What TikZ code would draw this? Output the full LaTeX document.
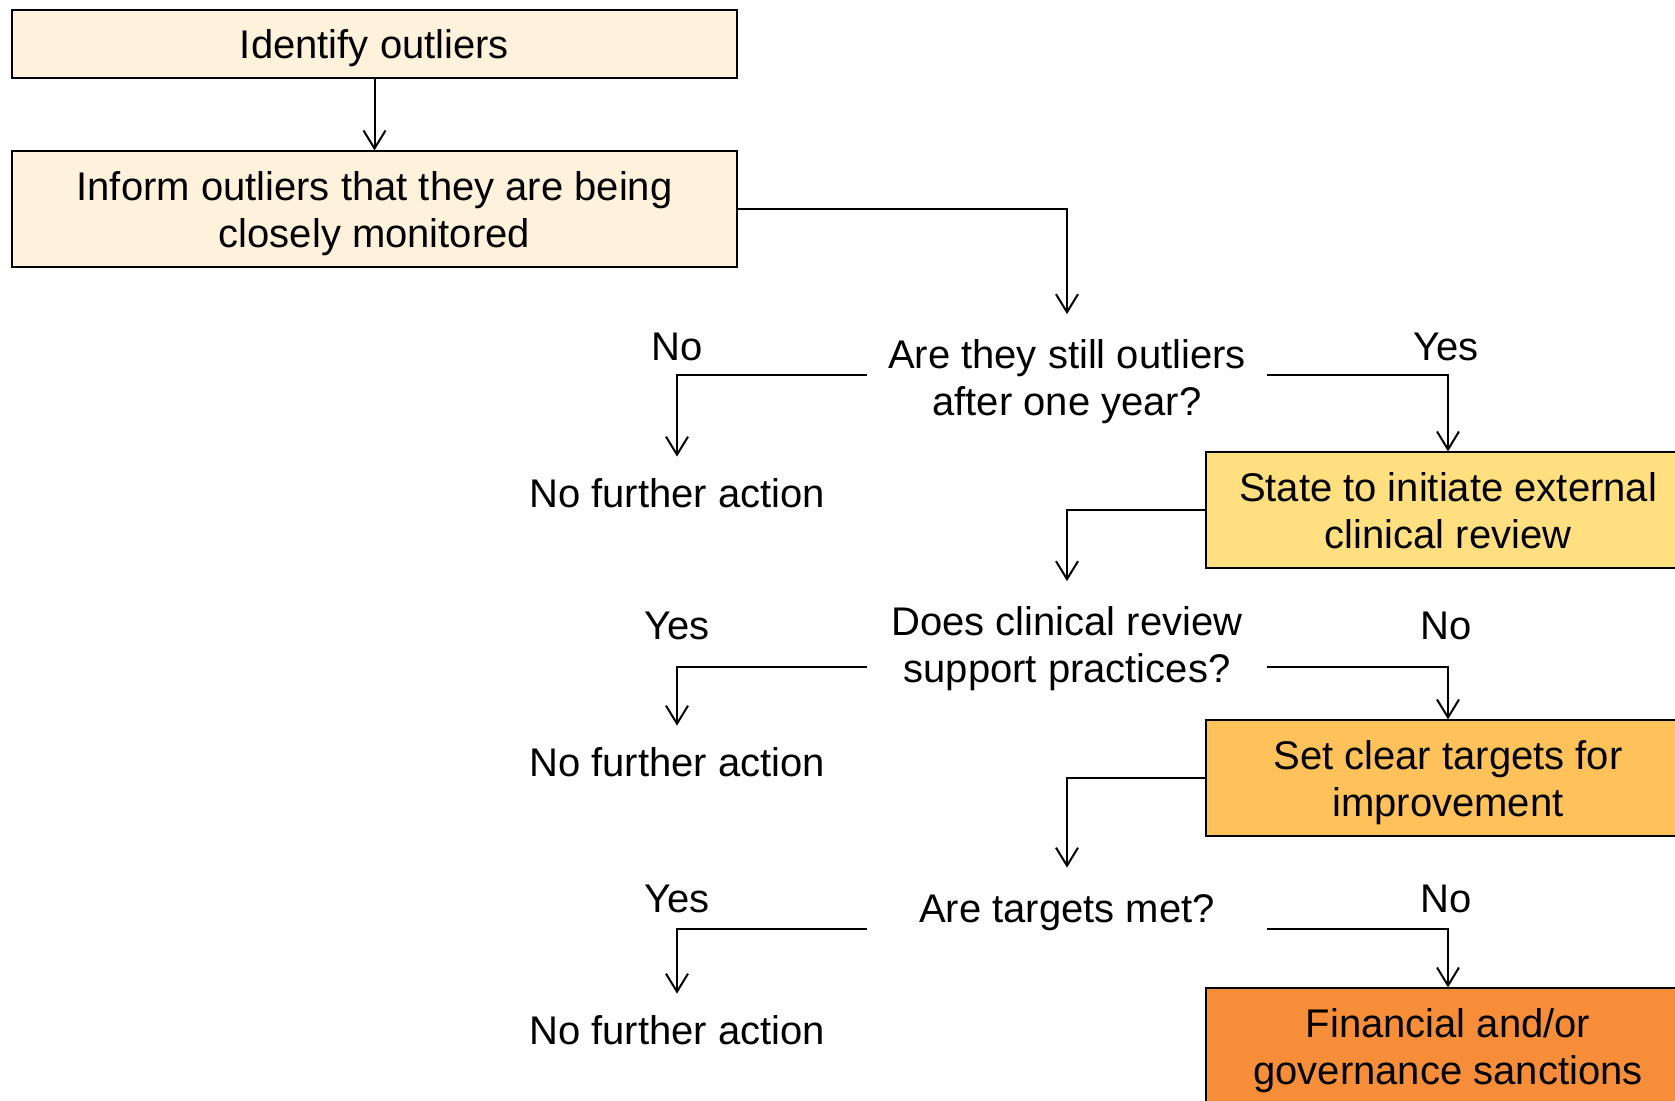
\documentclass[tikz,border=0pt]{standalone}
\usepackage{fontspec}
\setmainfont{Liberation Sans}
\usetikzlibrary{arrows.meta,positioning}
\definecolor{cream}{HTML}{FFF2DC}
\definecolor{ambr}{HTML}{FFDF80}
\definecolor{ochre}{HTML}{FFC25A}
\definecolor{rust}{HTML}{F68D38}
\newcommand{\topstr}{\rule{0pt}{19.5pt}}
\newcommand{\botstr}{\rule[-4.5pt]{0pt}{0pt}}

\begin{document}
\begin{tikzpicture}[x=0.5pt,y=-0.5pt,font=\fontsize{20}{23.5}\selectfont,
    act/.style={draw,line width=0.6pt,align=center,inner sep=0pt},
    upbox/.style={act,fill=cream,minimum width=362.5pt},
    sidebox/.style={act,minimum width=242pt,minimum height=58pt},
    qn/.style={align=center,minimum width=200pt,inner xsep=0pt,inner ysep=7.5pt},
    nfa/.style={minimum height=36pt,inner sep=0pt},
    arr/.style={line width=1pt,-{Straight Barb[length=9pt,width=11pt]}}]
    \useasboundingbox (0,0) rectangle (1675,1101);
    \clip (0,0) rectangle (1675,1101);
    \node[upbox,minimum height=34pt] (ident) at (374.5,44) {\topstr Identify outliers\botstr};
    \node[upbox,minimum height=58pt] (inform) at (374.5,209) {\topstr Inform outliers that they are being\\closely monitored\botstr};
    \node[qn] (q1) at (1067,377) {\topstr Are they still outliers\\after one year?\botstr};
    \node[sidebox,fill=ambr] (review) at (1448,510) {\topstr State to initiate external\\clinical review\botstr};
    \node[qn] (q2) at (1067,644) {\topstr Does clinical review\\support practices?\botstr};
    \node[sidebox,fill=ochre] (targets) at (1448,778) {\topstr Set clear targets for\\improvement\botstr};
    \node[qn] (q3) at (1067,907) {\topstr Are targets met?\botstr};
    \node[sidebox,fill=rust] (sanct) at (1448,1046) {\topstr Financial and/or\\governance sanctions\botstr};
    % no further action
    \node[nfa] (nfa1) at (677,493) {No further action};
    \node[nfa] (nfa2) at (677,762) {No further action};
    \node[nfa] (nfa3) at (677,1030) {No further action};
    % branch labels
    \node (l1) at (677,347) {No};
    \node (r1) at (1446,347) {Yes};
    \node (l2) at (677,626) {Yes};
    \node (r2) at (1446,626) {No};
    \node (l3) at (677,899) {Yes};
    \node (r3) at (1446,899) {No};
    \draw[arr] (ident) -- (inform);
    \draw[arr] (inform.east) -| (q1.north);
    \draw[arr] ([yshift=1pt]q1.west) -| (nfa1.north);
    \draw[arr] ([yshift=1pt]q1.east) -| (review.north);
    \draw[arr] (review.west) -| (q2.north);
    \draw[arr] ([yshift=-11.5pt]q2.west) -| (nfa2.north);
    \draw[arr] ([yshift=-11.5pt]q2.east) -| (targets.north);
    \draw[arr] (targets.west) -| (q3.north);
    \draw[arr] ([yshift=-11pt]q3.west) -| (nfa3.north);
    \draw[arr] ([yshift=-11pt]q3.east) -| (sanct.north);
\end{tikzpicture}
\end{document}
